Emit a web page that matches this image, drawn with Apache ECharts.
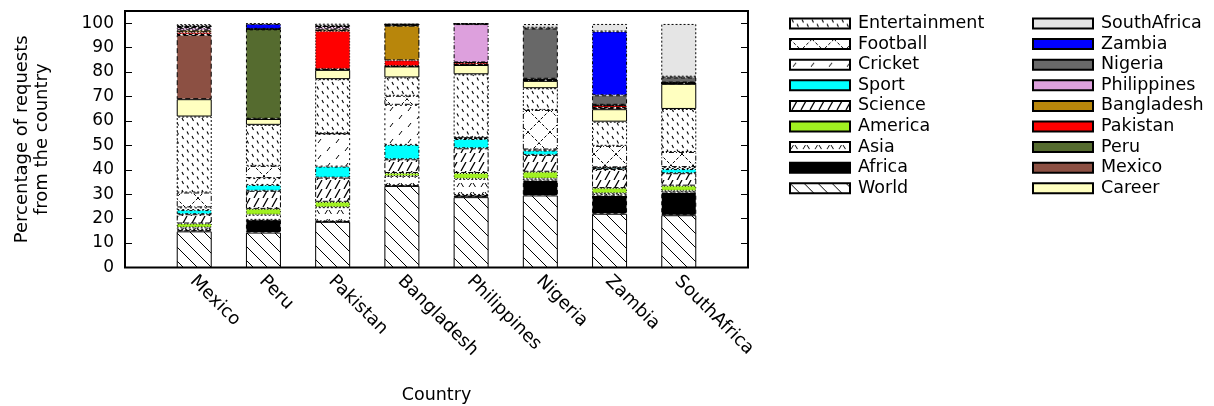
<!DOCTYPE html>
<html>
<head>
<meta charset="utf-8">
<script src="https://cdn.jsdelivr.net/npm/echarts@6/dist/echarts.min.js"></script>
<style>html,body{margin:0;padding:0;background:#fff;}#c{width:1214px;height:406px;}</style>
</head>
<body>
<div id="c"></div>
<script>
// ---------------- data ----------------
const countries = ['Mexico', 'Peru', 'Pakistan', 'Bangladesh', 'Philippines', 'Nigeria', 'Zambia', 'SouthAfrica'];
const yTicks = [0, 10, 20, 30, 40, 50, 60, 70, 80, 90, 100];

const World         = [14.8, 14.3, 18.7, 33.4, 28.8, 29.5, 22.0, 21.4];
const Africa        = [0.6, 5.2, 0.2, 0.2, 0.9, 6.1, 7.5, 9.3];
const Asia          = [1.0, 2.1, 5.8, 3.9, 6.6, 0.8, 0.9, 0.7];
const America       = [1.6, 2.4, 2.2, 1.2, 2.4, 2.8, 2.1, 2.1];
const Science       = [3.8, 7.4, 9.9, 5.6, 10.1, 6.9, 7.8, 5.1];
const Sport         = [1.7, 2.4, 4.5, 5.9, 3.8, 1.8, 0.5, 1.7];
const Cricket       = [1.1, 2.8, 13.4, 16.4, 0.4, 0.4, 0.2, 0.8];
const Football      = [6.1, 5.0, 0.2, 3.7, 0.2, 16.2, 8.8, 6.2];
const Entertainment = [31.1, 16.8, 22.2, 7.5, 25.9, 8.9, 9.9, 17.6];
const Career        = [7.1, 2.4, 3.8, 4.5, 3.8, 3.0, 5.1, 10.3];
const Mexico        = [26.3, 0.1, 0.3, 0.1, 0.1, 0.2, 0.6, 0.1];
const Peru          = [0.3, 36.6, 0.1, 0.1, 0.05, 0.05, 0.1, 0.1];
const Pakistan      = [0.8, 0.05, 15.5, 2.3, 0.8, 0.3, 0.8, 0.1];
const Bangladesh    = [0.8, 0.05, 0.7, 14.2, 0.1, 0.1, 0.2, 0.1];
const Philippines   = [1.0, 0.05, 1.0, 0.2, 15.7, 0.2, 0.1, 0.1];
const Nigeria       = [0.4, 0.05, 0.3, 0.2, 0.05, 20.6, 3.9, 2.1];
const Zambia        = [0.3, 2.0, 0.1, 0.1, 0.05, 0.3, 26.1, 0.3];
const SouthAfrica   = [0.8, 0.1, 0.9, 0.3, 0.1, 1.5, 3.1, 21.6];

const stackOrder = ['World','Africa','Asia','America','Science','Sport','Cricket','Football','Entertainment',
  'Career','Mexico','Peru','Pakistan','Bangladesh','Philippines','Nigeria','Zambia','SouthAfrica'];
const seriesValues = {World, Africa, Asia, America, Science, Sport, Cricket, Football, Entertainment,
  Career, Mexico, Peru, Pakistan, Bangladesh, Philippines, Nigeria, Zambia, SouthAfrica};
const legendCol1 = ['Entertainment','Football','Cricket','Sport','Science','America','Asia','Africa','World'];
const legendCol2 = ['SouthAfrica','Zambia','Nigeria','Philippines','Bangladesh','Pakistan','Peru','Mexico','Career'];

// padded category list: one empty slot on each side (x range -1 .. 8)
const paddedCats = [''].concat(countries, ['']);

// ---------------- styles ----------------
const FONT = 'DejaVu Sans';
function pat(w, h, draw) {
  const c = document.createElement('canvas');
  c.width = w; c.height = h;
  const g = c.getContext('2d');
  g.fillStyle = '#fff'; g.fillRect(0, 0, w, h);
  g.strokeStyle = '#000'; g.lineWidth = 1;
  draw(g, w, h);
  return { image: c, repeat: 'repeat' };
}
const fills = {
  World: pat(14, 14, (g) => { g.beginPath(); for (const k of [-14, 0, 14]) { g.moveTo(k, 0); g.lineTo(k + 14, 14); } g.stroke(); }),
  Africa: '#000000',
  Asia: pat(12, 9, (g) => { g.beginPath(); g.moveTo(1, 7); g.lineTo(3.5, 3); g.moveTo(5, 3); g.lineTo(7.5, 7); g.stroke(); }),
  America: '#a0f020',
  Science: pat(9, 9, (g) => { g.lineWidth = 1.3; g.beginPath(); for (const k of [-9, 0, 9]) { g.moveTo(k + 2, 9); g.lineTo(k + 7, 0); } g.stroke(); }),
  Sport: '#00ffff',
  Cricket: pat(18, 16, (g) => { g.beginPath(); g.moveTo(3, 7); g.lineTo(6, 3); g.moveTo(12, 15); g.lineTo(15, 11); g.stroke(); }),
  Football: pat(22, 22, (g) => { g.setLineDash([3, 2]); g.beginPath(); g.moveTo(0, 0); g.lineTo(22, 22); g.moveTo(22, 0); g.lineTo(0, 22); g.stroke(); }),
  Entertainment: pat(10, 9, (g) => { g.lineWidth = 1.1; g.beginPath(); g.moveTo(2, 1); g.lineTo(3.5, 4); g.moveTo(7, 5.5); g.lineTo(8.5, 8.5); g.stroke(); }),
  Career: '#ffffc0',
  Mexico: '#8c5043',
  Peru: '#556b2f',
  Pakistan: '#ff0000',
  Bangladesh: '#b8860b',
  Philippines: '#dda0dd',
  Nigeria: '#686868',
  Zambia: '#0000ff',
  SouthAfrica: '#e5e5e5'
};
const borders = {
  World: 'solid', Career: 'solid', Africa: [4, 3], Asia: [2, 2], America: [1, 2], Science: [5, 2],
  Sport: [3, 2, 1, 2], Cricket: [2, 3], Football: [5, 2, 1, 2], Entertainment: [2, 2],
  Mexico: [5, 3], Peru: [3, 3], Pakistan: [1, 2], Bangladesh: [6, 2, 2, 2], Philippines: [4, 2, 1, 2],
  Nigeria: [4, 3], Zambia: [3, 2, 1, 2], SouthAfrica: [2, 2]
};

const series = stackOrder.map(name => ({
  name,
  type: 'bar',
  stack: 'all',
  barWidth: 35,
  xAxisIndex: 0,
  yAxisIndex: 0,
  data: ['-'].concat(seriesValues[name], ['-']),
  itemStyle: { color: fills[name], borderColor: '#000', borderWidth: 1, borderType: borders[name] },
  emphasis: { disabled: true },
  animation: false
}));

const legendBase = {
  orient: 'vertical', top: 9.5, itemWidth: 60, itemHeight: 10, itemGap: 2.6, icon: 'rect',
  selectedMode: false,
  textStyle: { fontFamily: FONT, fontSize: 17.5, color: '#000', lineHeight: 17, padding: [0, 0, 0, 3] }
};

const chart = echarts.init(document.getElementById('c'), null, { renderer: 'canvas' });
chart.setOption({
  animation: false,
  backgroundColor: '#fff',
  grid: { left: 125, right: 466, top: 11, bottom: 138.5, show: true, borderColor: '#000', borderWidth: 2,
    containLabel: false, outerBoundsMode: 'none' },
  legend: [
    Object.assign({}, legendBase, { left: 784, data: legendCol1 }),
    Object.assign({}, legendBase, { left: 1027, data: legendCol2 })
  ],
  xAxis: [
    {
      type: 'category', data: paddedCats, boundaryGap: false, position: 'bottom', show: false
    },
    {
      type: 'value', min: -1, max: 8, interval: 1, position: 'bottom',
      name: 'Country', nameLocation: 'middle', nameGap: 119,
      nameTextStyle: { fontFamily: FONT, fontSize: 17.5, color: '#000' },
      axisLine: { show: false, onZero: false }, axisTick: { show: false }, splitLine: { show: false },
      axisLabel: {
        customValues: countries.map((c, i) => i - 0.02),
        formatter: (v) => countries[Math.round(v)] || '',
        rotate: -45, margin: 11, fontFamily: FONT, fontSize: 18, color: '#000'
      }
    }
  ],
  yAxis: [
    {
      type: 'value', min: 0, max: 105, interval: 10, position: 'left',
      name: 'Percentage of requests\nfrom the country', nameLocation: 'middle', nameGap: 73, nameRotate: 90,
      nameTextStyle: { fontFamily: FONT, fontSize: 18, color: '#000', lineHeight: 20, align: 'center' },
      axisLine: { show: false, onZero: false }, splitLine: { show: false },
      axisTick: { show: true, inside: true, length: 7, lineStyle: { color: '#000', width: 1 },
        customValues: yTicks },
      axisLabel: { customValues: yTicks, margin: 11, fontFamily: FONT, fontSize: 17, color: '#000' }
    },
    {
      type: 'value', min: 0, max: 105, interval: 10, position: 'right',
      axisLine: { show: false, onZero: false }, splitLine: { show: false },
      axisTick: { show: true, inside: true, length: 7, lineStyle: { color: '#000', width: 1 },
        customValues: yTicks },
      axisLabel: { show: false }
    }
  ],
  series
});
</script>
</body>
</html>
